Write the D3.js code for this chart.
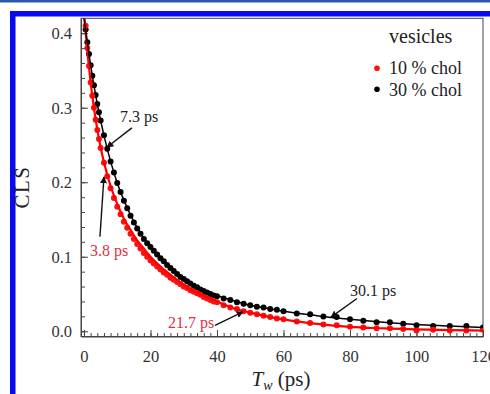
<!DOCTYPE html>
<html>
<head>
<meta charset="utf-8">
<script src="https://cdn.jsdelivr.net/npm/d3@7"></script>
<style>
  body { margin: 0; background: #fff; }
  svg text { font-family: "Liberation Serif", serif; }
</style>
</head>
<body>
<div id="chart"></div>
<script>
// waiting times (ps) shared by both series
var tw = [0.5, 1, 1.5, 2, 2.5, 3, 3.5, 4, 4.5, 5, 6, 7, 8, 9, 10, 11, 12, 13, 14, 15, 16, 17, 18, 19, 20,
  21, 22, 23, 24, 25, 26, 27, 28, 29, 30, 31, 32, 33, 34, 35, 36, 37, 38, 39, 40,
  42, 44, 46, 48, 50, 52, 54, 56, 58, 60, 64, 68, 72, 76, 80, 84, 88, 92, 96, 100, 105, 110, 115, 120];

var cls10 = [0.410, 0.380, 0.356, 0.334, 0.316, 0.300, 0.284, 0.270, 0.258, 0.246, 0.226, 0.208, 0.192, 0.179, 0.167,
  0.157, 0.147, 0.139, 0.131, 0.124, 0.117, 0.111, 0.105, 0.100, 0.095,
  0.091, 0.087, 0.083, 0.079, 0.076, 0.072, 0.069, 0.066, 0.063, 0.060, 0.058, 0.055, 0.053, 0.051, 0.049,
  0.046, 0.044, 0.042, 0.040, 0.039,
  0.035, 0.032, 0.030, 0.027, 0.025, 0.023, 0.021, 0.019, 0.017, 0.016, 0.013, 0.011, 0.009, 0.008, 0.006,
  0.005, 0.004, 0.004, 0.003, 0.001, 0.002, 0.001, 0.001, 0.002];

var cls30 = [0.405, 0.388, 0.372, 0.357, 0.343, 0.330, 0.317, 0.305, 0.294, 0.283, 0.263, 0.245, 0.228, 0.213, 0.199,
  0.187, 0.175, 0.165, 0.155, 0.146, 0.138, 0.131, 0.124, 0.118, 0.113,
  0.108, 0.103, 0.098, 0.094, 0.089, 0.085, 0.081, 0.077, 0.073, 0.070, 0.067, 0.064, 0.061, 0.059, 0.056,
  0.054, 0.052, 0.050, 0.048, 0.047,
  0.044, 0.042, 0.039, 0.037, 0.035, 0.033, 0.032, 0.030, 0.029, 0.027, 0.024, 0.023, 0.020, 0.019, 0.016,
  0.014, 0.012, 0.012, 0.010, 0.008, 0.007, 0.007, 0.007, 0.005];

// biexponential fit curves
var fitT = [0, 0.5, 1, 2, 3, 4, 5, 6, 8, 10, 12, 14, 16, 18, 20, 24, 28, 32, 36, 40, 45, 50, 55, 60, 70, 80, 90, 100, 110, 120];
var fit10 = [0.430, 0.402, 0.377, 0.334, 0.300, 0.271, 0.247, 0.227, 0.195, 0.171, 0.151, 0.136, 0.122, 0.111, 0.100,
  0.083, 0.069, 0.057, 0.048, 0.040, 0.031, 0.025, 0.020, 0.016, 0.010, 0.006, 0.004, 0.0025, 0.0016, 0.001];
var fit30 = [0.420, 0.404, 0.388, 0.357, 0.330, 0.305, 0.283, 0.263, 0.228, 0.199, 0.176, 0.156, 0.139, 0.125, 0.113,
  0.094, 0.078, 0.065, 0.055, 0.048, 0.041, 0.035, 0.031, 0.027, 0.021, 0.016, 0.012, 0.009, 0.007, 0.005];

var xTicks = [0, 20, 40, 60, 80, 100, 120];
var yTicks = [0.0, 0.1, 0.2, 0.3, 0.4];

var seriesNames = ["10 % chol", "30 % chol"];
var seriesColors = ["#ff1010", "#000000"];

// annotation labels, placed in data units: [label, textT, textV, fromT, fromV, toT, toV, color]
var notes = [
  ["7.3 ps", 10.8, 0.281, 14.4, 0.273, 6.9, 0.247, "#222"],
  ["3.8 ps", 1.8, 0.101, 4.8, 0.127, 6.0, 0.207, "#e0303f"],
  ["21.7 ps", 25.3, 0.004, 39.4, 0.008, 47.8, 0.026, "#e0303f"],
  ["30.1 ps", 80.0, 0.047, 82.1, 0.044, 74.3, 0.019, "#222"]
];

var serif = "'Liberation Serif', 'Times New Roman', serif";
var W = 490, H = 394;
var plot = {left: 81, right: 483, top: 18.3, bottom: 336.5};

var svg = d3.select("#chart").append("svg")
  .attr("width", W)
  .attr("height", H)
  .attr("font-family", serif);

// page frame
svg.append("rect").attr("x", 0).attr("y", 0).attr("width", W).attr("height", 2.5).attr("fill", "#2a58a8");
svg.append("rect").attr("x", 10).attr("y", 11).attr("width", W - 10).attr("height", 5.5).attr("fill", "#0a0af0");
svg.append("rect").attr("x", 10).attr("y", 11).attr("width", 5.5).attr("height", H - 11).attr("fill", "#0a0af0");

var xScale = d3.scaleLinear().domain([-0.9, 120]).range([plot.left, plot.right]);
var yScale = d3.scaleLinear().domain([-0.007, 0.42]).range([plot.bottom, plot.top]);

svg.append("defs").append("clipPath").attr("id", "clip")
  .append("rect")
  .attr("x", plot.left).attr("y", plot.top)
  .attr("width", plot.right - plot.left).attr("height", plot.bottom - plot.top);

// frame of the plot
svg.append("rect")
  .attr("x", plot.left).attr("y", plot.top)
  .attr("width", plot.right - plot.left).attr("height", plot.bottom - plot.top)
  .attr("fill", "none").attr("stroke", "#444").attr("stroke-width", 1);

// minor ticks
var xMinor = d3.range(0, 121, 2);
var yMinor = d3.range(0, 0.41, 0.02);
svg.append("g").attr("transform", "translate(0," + plot.bottom + ")")
  .call(d3.axisBottom(xScale).tickValues(xMinor).tickSize(-3.5).tickFormat(""))
  .call(g => g.select(".domain").remove());
svg.append("g").attr("transform", "translate(" + plot.left + ",0)")
  .call(d3.axisLeft(yScale).tickValues(yMinor).tickSize(-4).tickFormat(""))
  .call(g => g.select(".domain").remove());

// major ticks with labels
var axisB = svg.append("g").attr("transform", "translate(0," + plot.bottom + ")")
  .call(d3.axisBottom(xScale).tickValues(xTicks).tickSize(-6.5).tickPadding(14).tickSizeOuter(0));
var axisL = svg.append("g").attr("transform", "translate(" + plot.left + ",0)")
  .call(d3.axisLeft(yScale).tickValues(yTicks).tickSize(-7).tickPadding(9).tickSizeOuter(0).tickFormat(d3.format(".1f")));

[axisB, axisL].forEach(function(ax) {
  ax.attr("font-family", serif);
  ax.selectAll("path.domain").attr("stroke", "#444");
  ax.selectAll("text")
    .style("font-family", serif)
    .style("font-size", "16.5px")
    .attr("fill", "#333");
});
svg.selectAll(".tick line").attr("stroke", "#444");

// axis titles
svg.append("text")
  .attr("transform", "translate(28.5,187) rotate(-90)")
  .attr("text-anchor", "middle")
  .style("font-family", serif)
  .style("font-size", "21px")
  .style("letter-spacing", "1.5px")
  .attr("fill", "#222")
  .text("CLS");

var xTitle = svg.append("text")
  .attr("x", 281).attr("y", 386)
  .attr("text-anchor", "middle")
  .style("font-family", serif)
  .style("font-size", "21px")
  .attr("fill", "#222");
xTitle.append("tspan").style("font-style", "italic").text("T");
xTitle.append("tspan").style("font-style", "italic").style("font-size", "14px").attr("dy", 4).text("w");
xTitle.append("tspan").attr("dy", -4).text(" (ps)");

var plotG = svg.append("g").attr("clip-path", "url(#clip)");

var series = [cls10, cls30];

// data points, black first so the red sits on top at short times
[1, 0].forEach(function(s) {
  plotG.selectAll(".dot" + s)
    .data(series[s])
    .enter()
    .append("circle")
    .attr("cx", (d, i) => xScale(tw[i]))
    .attr("cy", d => yScale(d))
    .attr("r", 3)
    .attr("fill", seriesColors[s]);
});

var line = d3.line()
  .x((d, i) => xScale(fitT[i]))
  .y(d => yScale(d))
  .curve(d3.curveMonotoneX);

plotG.append("path")
  .attr("d", line(fit10))
  .attr("fill", "none")
  .attr("stroke", "#ff0000")
  .attr("stroke-width", 2.2);
plotG.append("path")
  .attr("d", line(fit30))
  .attr("fill", "none")
  .attr("stroke", "#000")
  .attr("stroke-width", 1.5);

// annotations
svg.append("defs").append("marker")
  .attr("id", "head")
  .attr("viewBox", "0 0 10 10")
  .attr("refX", 9).attr("refY", 5)
  .attr("markerWidth", 7).attr("markerHeight", 7)
  .attr("markerUnits", "userSpaceOnUse")
  .attr("orient", "auto")
  .append("path")
  .attr("d", "M0,0 L10,5 L0,10 z")
  .attr("fill", "#111");

notes.forEach(function(n) {
  svg.append("text")
    .attr("x", xScale(n[1])).attr("y", yScale(n[2]))
    .style("font-family", serif)
    .style("font-size", "16px")
    .attr("fill", n[7])
    .text(n[0]);
  svg.append("line")
    .attr("x1", xScale(n[3])).attr("y1", yScale(n[4]))
    .attr("x2", xScale(n[5])).attr("y2", yScale(n[6]))
    .attr("stroke", "#111")
    .attr("stroke-width", 1.4)
    .attr("marker-end", "url(#head)");
});

// legend
var legend = svg.append("g");
legend.append("text")
  .attr("x", 389).attr("y", 43)
  .style("font-family", serif)
  .style("font-size", "20px")
  .attr("fill", "#222")
  .text("vesicles");
seriesNames.forEach(function(name, i) {
  legend.append("circle")
    .attr("cx", 377).attr("cy", 68.3 + i * 21)
    .attr("r", 2.8)
    .attr("fill", seriesColors[i]);
  legend.append("text")
    .attr("x", 389).attr("y", 74 + i * 21.5)
    .style("font-family", serif)
    .style("font-size", "18px")
    .attr("fill", "#222")
    .text(name);
});
</script>
</body>
</html>
